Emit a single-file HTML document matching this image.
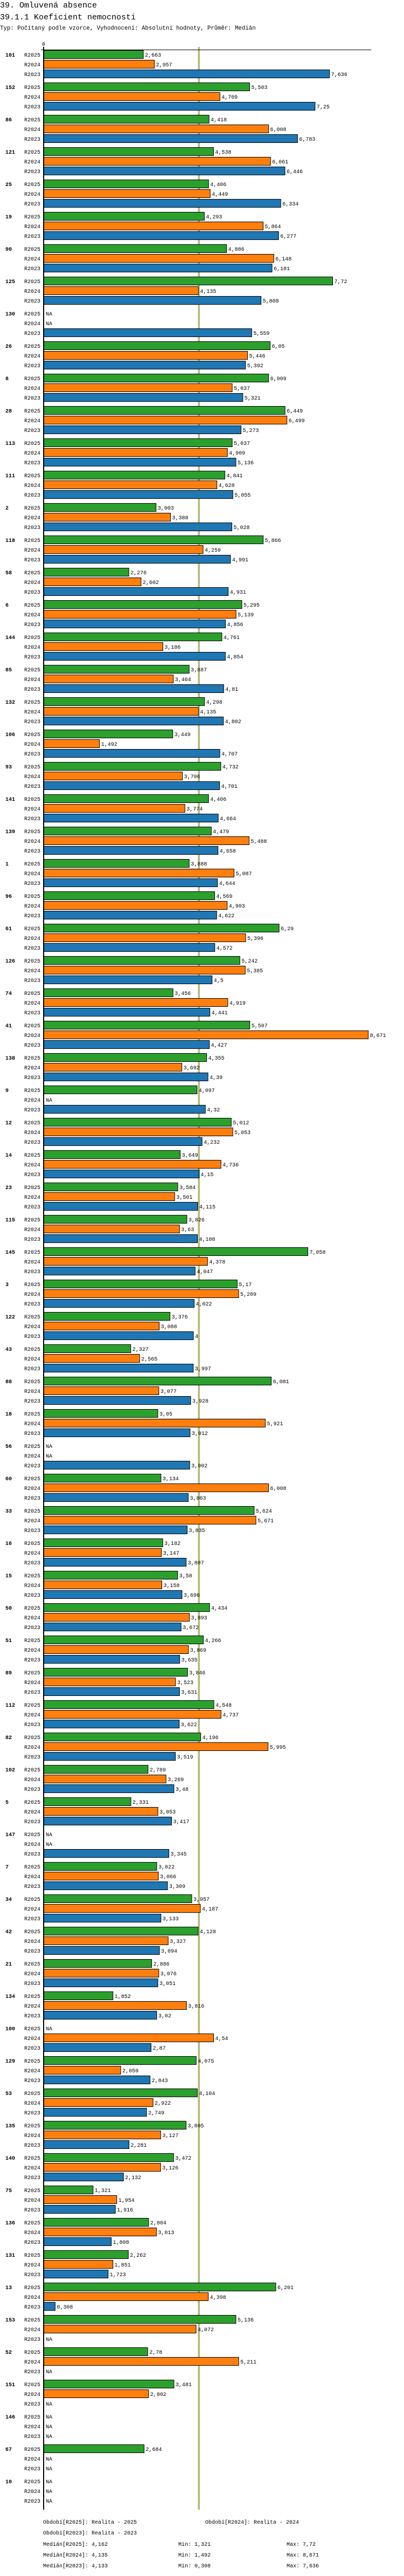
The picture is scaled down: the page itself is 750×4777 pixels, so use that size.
<!DOCTYPE html>
<html><head><meta charset="utf-8">
<style>
html,body{margin:0;padding:0;background:#fff;}
body{width:750px;height:4772px;overflow:hidden;font-family:"Liberation Mono",monospace;}
svg text{font-family:"Liberation Mono",monospace;}
</style></head>
<body>
<svg id="chart" width="750" height="4772" xmlns="http://www.w3.org/2000/svg">
<text x="0" y="14" font-size="15">39. Omluvená absence</text>
<text x="0" y="36" font-size="15">39.1.1 Koeficient nemocnosti</text>
<text x="0" y="55" font-size="10.7">Typ: Počítaný podle vzorce, Vyhodnocení: Absolutní hodnoty, Průměr: Medián</text>
<text x="81" y="85" font-size="10" text-anchor="middle">0</text>
<g id="plot"></g>
<g font-size="10">
<text x="80" y="4680">Období[R2025]: Realita - 2025</text>
<text x="381" y="4680">Období[R2024]: Realita - 2024</text>
<text x="80" y="4700">Období[R2023]: Realita - 2023</text>
<text x="80" y="4721">Medián[R2025]: 4,162</text>
<text x="331" y="4721">Min: 1,321</text>
<text x="532" y="4721">Max: 7,72</text>
<text x="80" y="4741">Medián[R2024]: 4,135</text>
<text x="331" y="4741">Min: 1,492</text>
<text x="532" y="4741">Max: 8,671</text>
<text x="80" y="4761">Medián[R2023]: 4,133</text>
<text x="331" y="4761">Min: 0,308</text>
<text x="532" y="4761">Max: 7,636</text>
</g>
</svg>
<script>
const categories = ["101","152","86","121","25","19","90","125","130","26","8","28","113","111","2","118","58","6","144","85","132","106","93","141","139","1","96","61","126","74","41","138","9","12","14","23","115","145","3","122","43","88","18","56","60","33","16","15","50","51","89","112","82","102","5","147","7","34","42","21","134","100","129","53","135","140","75","136","131","13","153","52","151","146","67","10"];
const seriesNames = ["R2025","R2024","R2023"];
const r2025 = [2.663,5.503,4.418,4.538,4.406,4.293,4.886,7.72,null,6.05,6.009,6.449,5.037,4.841,3.003,5.866,2.276,5.295,4.761,3.887,4.298,3.449,4.732,4.406,4.479,3.888,4.569,6.29,5.242,3.456,5.507,4.355,4.097,5.012,3.649,3.584,3.826,7.058,5.17,3.376,2.327,6.081,3.05,null,3.134,5.624,3.182,3.58,4.434,4.266,3.846,4.548,4.196,2.789,2.331,null,3.022,3.957,4.128,2.886,1.852,null,4.075,4.104,3.805,3.472,1.321,2.804,2.262,6.201,5.136,2.78,3.481,null,2.684,null];
const r2024 = [2.957,4.709,6.008,6.061,4.449,5.864,6.148,4.135,null,5.446,5.037,6.499,4.909,4.628,3.388,4.259,2.602,5.139,3.186,3.464,4.135,1.492,3.706,3.774,5.488,5.087,4.903,5.396,5.385,4.919,8.671,3.692,null,5.053,4.736,3.501,3.63,4.378,5.209,3.088,2.565,3.077,5.921,null,6.008,5.671,3.147,3.158,3.893,3.869,3.523,4.737,5.995,3.269,3.053,null,3.066,4.187,3.327,3.076,3.816,4.54,2.059,2.922,3.127,3.126,1.954,3.013,1.851,4.398,4.072,5.211,2.802,null,null,null];
const r2023 = [7.636,7.25,6.783,6.446,6.334,6.277,6.101,5.808,5.559,5.392,5.321,5.273,5.136,5.055,5.028,4.991,4.931,4.856,4.854,4.81,4.802,4.707,4.701,4.664,4.658,4.644,4.622,4.572,4.5,4.441,4.427,4.39,4.32,4.232,4.15,4.115,4.108,4.047,4.022,4,3.997,3.928,3.912,3.902,3.863,3.835,3.807,3.696,3.672,3.635,3.631,3.622,3.519,3.48,3.417,3.345,3.309,3.133,3.094,3.051,3.02,2.87,2.843,2.749,2.281,2.132,1.916,1.808,1.723,0.308,null,null,null,null,null,null];
const medians = [4.162,4.135,4.133];

const NS="http://www.w3.org/2000/svg";
const plot=document.getElementById('plot');
const X0=81, PX=69.5, Y0=101, GROUP=60, ROW=18, BH=15;
const colors=["#2ca02c","#ff7f0e","#1f77b4"];
const series=[r2025,r2024,r2023];
const xs=v=>X0+v*PX;
const ys=(g,r)=>Y0+g*GROUP+r*ROW;
function mk(tag,attrs){const e=document.createElementNS(NS,tag);for(const k in attrs)e.setAttribute(k,attrs[k]);plot.appendChild(e);return e;}
const fmt=v=>String(v).replace('.',',');
const yEnd=ys(categories.length-1,2)+17;
// median lines
const medOrder=[2,0,1];
medOrder.forEach((s,i)=>{
  const l=mk('line',{x1:xs(medians[s]),x2:xs(medians[s]),y1:87,y2:yEnd,stroke:colors[s],'stroke-width':1});
  
  
});
categories.forEach((c,g)=>{
  const t=mk('text',{x:10,y:ys(g,0)+4,'font-size':10,'font-weight':'bold'});
  t.textContent=c;
  
  
  for(let r=0;r<3;r++){
    const y=ys(g,r);
    const lt=mk('text',{x:75,y:y+4,'font-size':10,'text-anchor':'end'});
    lt.textContent=seriesNames[r];
    
    
    const v=series[r][g];
    if(v===null){
      const na=mk('text',{x:85,y:y+4,'font-size':10});
      na.textContent='NA';
      
      
    }else{
      const b=mk('rect',{x:X0,y:y-BH/2,width:xs(v)-X0,height:BH,fill:colors[r],stroke:'#000','stroke-width':1});
      
      
      const vl=mk('text',{x:xs(v)+3,y:y+4,'font-size':10});
      vl.textContent=fmt(v);
      
      
    }
  }
});
const ax=mk('line',{x1:X0,x2:X0,y1:87,y2:yEnd,stroke:'#000','stroke-width':2});


const tx=mk('line',{x1:76,x2:689,y1:92.5,y2:92.5,stroke:'#000','stroke-width':1});


</script>
</body></html>
